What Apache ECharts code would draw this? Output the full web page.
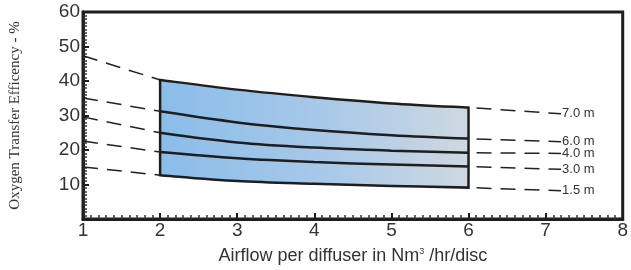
<!DOCTYPE html>
<html>
<head>
    <meta charset="utf-8" />
    <title>Oxygen Transfer Efficiency</title>
    <script src="https://cdn.jsdelivr.net/npm/echarts@6/dist/echarts.min.js"></script>
    <style>
        *{ margin:0; padding:0; }
        body{ background:#fff; }
        #main{ width:631px; height:270px; }
    </style>
</head>
<body>
<div id="main"></div>
<script type="text/javascript">
    // submergence depths, top curve first
    var depthLabels = ['7.0 m', '6.0 m', '4.0 m', '3.0 m', '1.5 m'];

    // solid part of the curves (diffuser operating range)
    var bandX = [2, 3, 4, 5, 6];
    var curve70 = [40.3, 37.5, 35.3, 33.5, 32.3];
    var curve60 = [31.2, 28.0, 25.8, 24.3, 23.3];
    var curve40 = [25.0, 22.2, 20.7, 19.8, 19.2];
    var curve30 = [19.4, 17.6, 16.5, 15.8, 15.2];
    var curve15 = [12.7, 11.0, 10.2, 9.6, 9.1];

    // dashed extensions: value at x = 1 and at the right end x = 7.2
    var leftX = 1;
    var leftValues = [47.3, 35.1, 29.6, 22.6, 15.1];
    var rightX = 7.2;
    var rightValues = [30.5, 22.4, 19.0, 14.4, 8.2];

    var curves = [curve70, curve60, curve40, curve30, curve15];

    var xTicks = [1, 2, 3, 4, 5, 6, 7, 8];
    var yTicks = [0, 10, 20, 30, 40, 50, 60];

    var myChart = echarts.init(document.getElementById('main'));

    function pairs(xs, ys) {
        return xs.map(function (x, i) { return [x, ys[i]]; });
    }

    // catmull-rom through screen points -> svg path piece
    function smoothPath(pts, moveFirst) {
        var d = (moveFirst ? 'M' : 'L') + pts[0][0] + ' ' + pts[0][1];
        for (var i = 0; i < pts.length - 1; i++) {
            var p0 = pts[i - 1] || pts[i];
            var p1 = pts[i];
            var p2 = pts[i + 1];
            var p3 = pts[i + 2] || p2;
            var c1x = p1[0] + (p2[0] - p0[0]) / 6, c1y = p1[1] + (p2[1] - p0[1]) / 6;
            var c2x = p2[0] - (p3[0] - p1[0]) / 6, c2y = p2[1] - (p3[1] - p1[1]) / 6;
            d += 'C' + c1x + ' ' + c1y + ' ' + c2x + ' ' + c2y + ' ' + p2[0] + ' ' + p2[1];
        }
        return d;
    }

    var series = [];

    // shaded band between top and bottom curves
    series.push({
        type: 'custom',
        silent: true,
        z: 1,
        data: [0],
        renderItem: function (params, api) {
            var top = bandX.map(function (x, i) { return api.coord([x, curve70[i]]); });
            var bot = bandX.map(function (x, i) { return api.coord([x, curve15[i]]); }).reverse();
            var d = smoothPath(top, true) + smoothPath(bot, false) + 'Z';
            return {
                type: 'path',
                shape: { pathData: d },
                style: {
                    fill: new echarts.graphic.LinearGradient(0, 0, 1, 0, [
                        {offset: 0, color: '#89bdea'},
                        {offset: 0.55, color: '#a9c9e8'},
                        {offset: 1, color: '#cfd8e1'}
                    ]),
                    stroke: '#1e1e1e',
                    lineWidth: 2.5,
                    lineJoin: 'miter'
                }
            };
        }
    });

    // inner solid curves
    [curve60, curve40, curve30].forEach(function (c) {
        series.push({
            type: 'line',
            data: pairs(bandX, c),
            smooth: 0.35,
            symbol: 'none',
            z: 3,
            lineStyle: { color: '#1e1e1e', width: 2.5 }
        });
    });

    // dashed extensions left and right
    curves.forEach(function (c, i) {
        series.push({
            type: 'line',
            data: [[leftX, leftValues[i]], [bandX[0], c[0]]],
            symbol: 'none',
            z: 2,
            lineStyle: { color: '#222', width: 1.5, type: [15, 9] }
        });
        series.push({
            type: 'line',
            name: depthLabels[i],
            data: [[bandX[bandX.length - 1], c[c.length - 1]], [rightX, rightValues[i]]],
            symbol: 'none',
            z: 2,
            lineStyle: { color: '#222', width: 1.5, type: [15, 9], dashOffset: 16 },
            endLabel: {
                show: true,
                distance: 1,
                formatter: '{a}',
                fontFamily: 'Liberation Sans',
                fontSize: 13,
                color: '#333'
            }
        });
    });

    var option = {
        animation: false,
        grid: {
            left: 80, right: 5, top: 12, bottom: 50,
            show: true,
            borderColor: '#1e1e1e',
            borderWidth: 3
        },
        xAxis: {
            type: 'value',
            min: xTicks[0],
            max: xTicks[xTicks.length - 1],
            interval: 1,
            name: 'Airflow per diffuser in Nm{sup|3} /hr/disc',
            nameLocation: 'middle',
            nameGap: 28,
            nameTextStyle: {
                fontFamily: 'Liberation Sans',
                fontSize: 18,
                color: '#333',
                rich: {
                    sup: { fontSize: 9, verticalAlign: 'top', padding: [0, 0, 9, 0], color: '#333' }
                }
            },
            axisLine: { lineStyle: { color: '#1e1e1e', width: 3 } },
            axisTick: { inside: true, length: 6, lineStyle: { color: '#1e1e1e', width: 2 } },
            minorTick: { show: true, splitNumber: 10, length: 4, lineStyle: { color: '#333', width: 1.5 } },
            axisLabel: {
                fontFamily: 'Liberation Sans',
                fontSize: 19,
                color: '#333',
                margin: 2
            },
            splitLine: { show: false }
        },
        yAxis: {
            type: 'value',
            min: yTicks[0],
            max: yTicks[yTicks.length - 1],
            interval: 10,
            name: 'Oxygen Transfer Efficency - %',
            nameLocation: 'middle',
            nameGap: 60,
            nameTextStyle: {
                fontFamily: 'Liberation Serif',
                fontSize: 15,
                color: '#333'
            },
            axisLine: { lineStyle: { color: '#1e1e1e', width: 3 } },
            axisTick: { inside: true, length: 6, lineStyle: { color: '#1e1e1e', width: 2 } },
            minorTick: { show: true, splitNumber: 10, length: 4, lineStyle: { color: '#333', width: 1.5 } },
            axisLabel: {
                fontFamily: 'Liberation Sans',
                fontSize: 19,
                color: '#333',
                margin: 3,
                formatter: function (v) { return v === 0 ? '' : v; }
            },
            splitLine: { show: false }
        },
        series: series
    };

    myChart.setOption(option);
</script>
</body>
</html>
